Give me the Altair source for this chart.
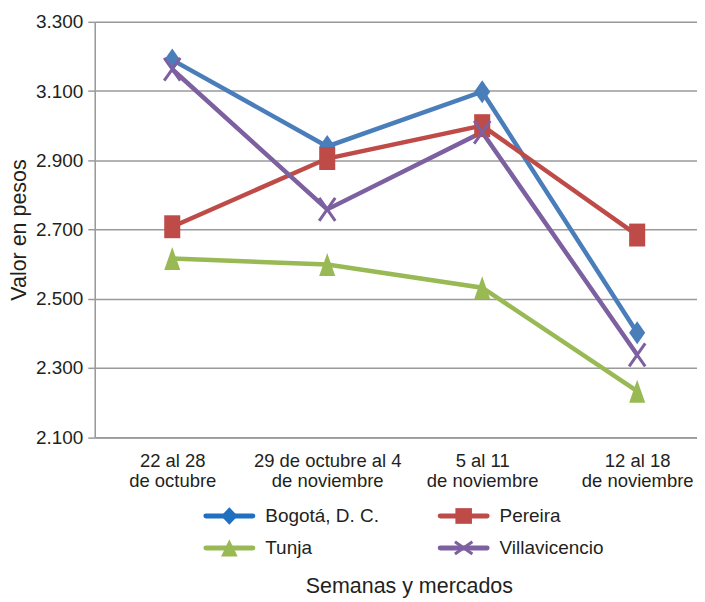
import json
import altair as alt
import pandas as pd

# ---------------- data ----------------
weeks = [
    "22 al 28|de octubre",
    "29 de octubre al 4|de noviembre",
    "5 al 11|de noviembre",
    "12 al 18|de noviembre",
]
series = ["Bogotá, D. C.", "Pereira", "Tunja", "Villavicencio"]
bogota = [3190, 2940, 3098, 2402]
pereira = [2708, 2905, 3000, 2684]
tunja = [2616, 2599, 2532, 2233]
villavicencio = [3163, 2758, 2981, 2338]
y_ticks = [2100, 2300, 2500, 2700, 2900, 3100, 3300]

colors = ["#4a7ebb", "#be4b48", "#98b954", "#7d60a0"]
legend_colors = ["#1f70c1", "#be4b48", "#98b954", "#7d60a0"]
legend_col = [0, 1, 0, 1]
legend_row = [0, 0, 1, 1]

# marker paths (plot markers are taller than wide, like the reference)
plot_shapes = [
    "M0,-1L0.7,0L0,1L-0.7,0Z",
    "M-0.7,-1H0.7V1H-0.7Z",
    "M0,-1L0.7,1H-0.7Z",
]
x_shape = "M-0.7,-1L0.7,1M-0.7,1L0.7,-1"
legend_shapes = [
    "M0,-1L0.95,0L0,1L-0.95,0Z",
    "M-0.95,-0.9H0.95V0.9H-0.95Z",
    "M0,-1L0.95,1H-0.95Z",
]
legend_x_shape = "M-1,-0.7L1,0.7M-1,0.7L1,-0.7"

values = [bogota, pereira, tunja, villavicencio]
rows = []
for s, vals in zip(series, values):
    for i, v in enumerate(vals):
        rows.append({"series": s, "idx": i, "value": v})
df = pd.DataFrame(rows)

leg = pd.DataFrame({
    "series": series,
    "col": legend_col,
    "row": legend_row,
    "lcolor": legend_colors,
})

FONT = "Liberation Sans"
TXT = "#231f20"
GRID = "#9a9a9a"

W = 604
H = 416.6

label_expr = "split(" + json.dumps(weeks) + "[datum.value], '|')"

x_enc = alt.X(
    "idx:Q",
    scale=alt.Scale(domain=[-0.5, 3.386], nice=False, zero=False),
    axis=alt.Axis(
        values=[0, 1, 2, 3],
        labelExpr=label_expr,
        labelFontSize=18.5,
        labelLineHeight=20,
        labelPadding=14,
        labelColor=TXT,
        labelFont=FONT,
        ticks=False,
        tickSize=0,
        grid=False,
        domainColor=GRID,
        domainWidth=1.5,
        title="Semanas y mercados",
        titleFont=FONT,
        titleFontSize=21.5,
        titleFontWeight="normal",
        titleColor=TXT,
        titleX=315,
        titleY=156,
        titleAlign="center",
        titleBaseline="alphabetic",
        labelOverlap=False,
    ),
)
y_enc = alt.Y(
    "value:Q",
    scale=alt.Scale(domain=[2100, 3300], nice=False, zero=False),
    axis=alt.Axis(
        values=y_ticks,
        labelExpr="replace(format(datum.value, ',.0f'), ',', '.')",
        labelFontSize=19,
        labelFont=FONT,
        labelColor=TXT,
        labelPadding=5,
        tickSize=7,
        tickColor=GRID,
        tickWidth=1.5,
        domainColor=GRID,
        domainWidth=1.5,
        gridColor=GRID,
        gridWidth=1.5,
        title="Valor en pesos",
        titleFont=FONT,
        titleFontSize=21.5,
        titleFontWeight="normal",
        titleColor=TXT,
        titlePadding=5,
    ),
)
color_enc = alt.Color("series:N", scale=alt.Scale(domain=series, range=colors), legend=None)

base = alt.Chart(df)
lines = base.mark_line(strokeWidth=4.5).encode(x=x_enc, y=y_enc, color=color_enc)
filled_pts = base.transform_filter(alt.datum.series != "Villavicencio").mark_point(
    filled=True, size=529, opacity=1
).encode(
    x=x_enc, y=y_enc, color=color_enc,
    shape=alt.Shape("series:N", scale=alt.Scale(domain=series[:3], range=plot_shapes), legend=None),
)
x_pts = base.transform_filter(alt.datum.series == "Villavicencio").mark_point(
    shape=x_shape, filled=False, size=529, strokeWidth=3, opacity=1
).encode(x=x_enc, y=y_enc, color=color_enc)

main = alt.layer(lines, filled_pts, x_pts)

# ---------------- manual legend ----------------
lx = alt.X("col:Q", scale=alt.Scale(domain=[0, 1], range=[135, 370]), axis=None)
ly = alt.Y("row:Q", scale=alt.Scale(domain=[0, 1], range=[495.6, 527.6]), axis=None)
lcol = alt.Color("lcolor:N", scale=None, legend=None)

lbase = alt.Chart(leg)
leg_rule = lbase.mark_rule(strokeWidth=5, strokeCap="round", xOffset=-23.5, x2Offset=23.5).encode(
    x=lx, x2="col:Q", y=ly, color=lcol
)
leg_pts = lbase.transform_filter(alt.datum.series != "Villavicencio").mark_point(
    filled=True, size=306, opacity=1
).encode(
    x=lx, y=ly, color=lcol,
    shape=alt.Shape("series:N", scale=alt.Scale(domain=series[:3], range=legend_shapes), legend=None),
)
leg_x = lbase.transform_filter(alt.datum.series == "Villavicencio").mark_point(
    shape=legend_x_shape, filled=False, size=306, strokeWidth=3, opacity=1
).encode(x=lx, y=ly, color=lcol)
leg_txt = lbase.mark_text(align="left", baseline="middle", dx=36, fontSize=19, font=FONT, color=TXT).encode(
    x=lx, y=ly, text="series:N"
)
legend = alt.layer(leg_rule, leg_pts, leg_x, leg_txt)

chart = alt.layer(main, legend).resolve_scale(
    x="independent", y="independent", color="independent", shape="independent"
).properties(
    width=W, height=H, padding={"top": 4, "left": 0, "right": 0, "bottom": 0}
).configure_view(stroke=None).configure(font=FONT, background="white")

chart.save("out.html", embed_options={"renderer": "svg", "actions": False})
